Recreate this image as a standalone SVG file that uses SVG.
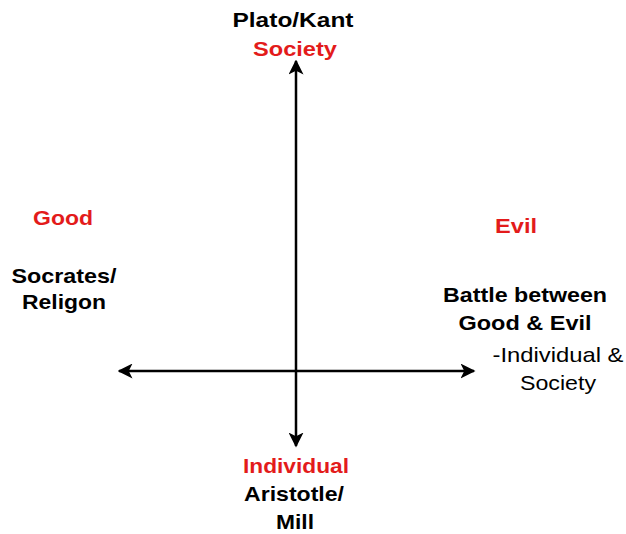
<svg xmlns="http://www.w3.org/2000/svg" width="626" height="534" viewBox="0 0 626 534">
<style>
text{font-family:"Liberation Sans",Arial,sans-serif;font-size:21px;text-anchor:middle}
.b{font-weight:bold;fill:#000}
.r{font-weight:bold;fill:#e31b1b}
.n{fill:#000}
.ax{stroke:#000;stroke-width:2.5;fill:none}
</style>
<defs>
<marker id="ah" viewBox="0 0 10 10" refX="9" refY="5" markerWidth="6" markerHeight="6" markerUnits="strokeWidth" orient="auto-start-reverse">
<path d="M0,0 L10,5 L0,10 L2.5,5 Z" fill="#000"/>
</marker>
</defs>
<rect width="626" height="534" fill="#fff"/>
<g id="connectors">
<line class="ax" x1="296" y1="446" x2="296" y2="61" marker-start="url(#ah)" marker-end="url(#ah)"/>
<line class="ax" x1="119" y1="371" x2="474" y2="371" marker-start="url(#ah)" marker-end="url(#ah)"/>
</g>
<g id="top">
<text class="b" x="293" y="27" textLength="121" lengthAdjust="spacingAndGlyphs">Plato/Kant</text>
<text class="r" x="295" y="56" textLength="84" lengthAdjust="spacingAndGlyphs">Society</text>
</g>
<g id="left">
<text class="r" x="63" y="225" textLength="60" lengthAdjust="spacingAndGlyphs">Good</text>
<text class="b" x="64" y="283" textLength="105" lengthAdjust="spacingAndGlyphs">Socrates/</text>
<text class="b" x="64" y="309" textLength="84" lengthAdjust="spacingAndGlyphs">Religon</text>
</g>
<g id="right">
<text class="r" x="516" y="233" textLength="42" lengthAdjust="spacingAndGlyphs">Evil</text>
<text class="b" x="525" y="302" textLength="164" lengthAdjust="spacingAndGlyphs">Battle between</text>
<text class="b" x="525" y="330" textLength="133" lengthAdjust="spacingAndGlyphs">Good &amp; Evil</text>
<text class="n" x="558" y="362" textLength="131" lengthAdjust="spacingAndGlyphs">-Individual &amp;</text>
<text class="n" x="558" y="390" textLength="76" lengthAdjust="spacingAndGlyphs">Society</text>
</g>
<g id="bottom">
<text class="r" x="296" y="473" textLength="106" lengthAdjust="spacingAndGlyphs">Individual</text>
<text class="b" x="294" y="501" textLength="100" lengthAdjust="spacingAndGlyphs">Aristotle/</text>
<text class="b" x="295" y="529" textLength="38" lengthAdjust="spacingAndGlyphs">Mill</text>
</g>
</svg>
